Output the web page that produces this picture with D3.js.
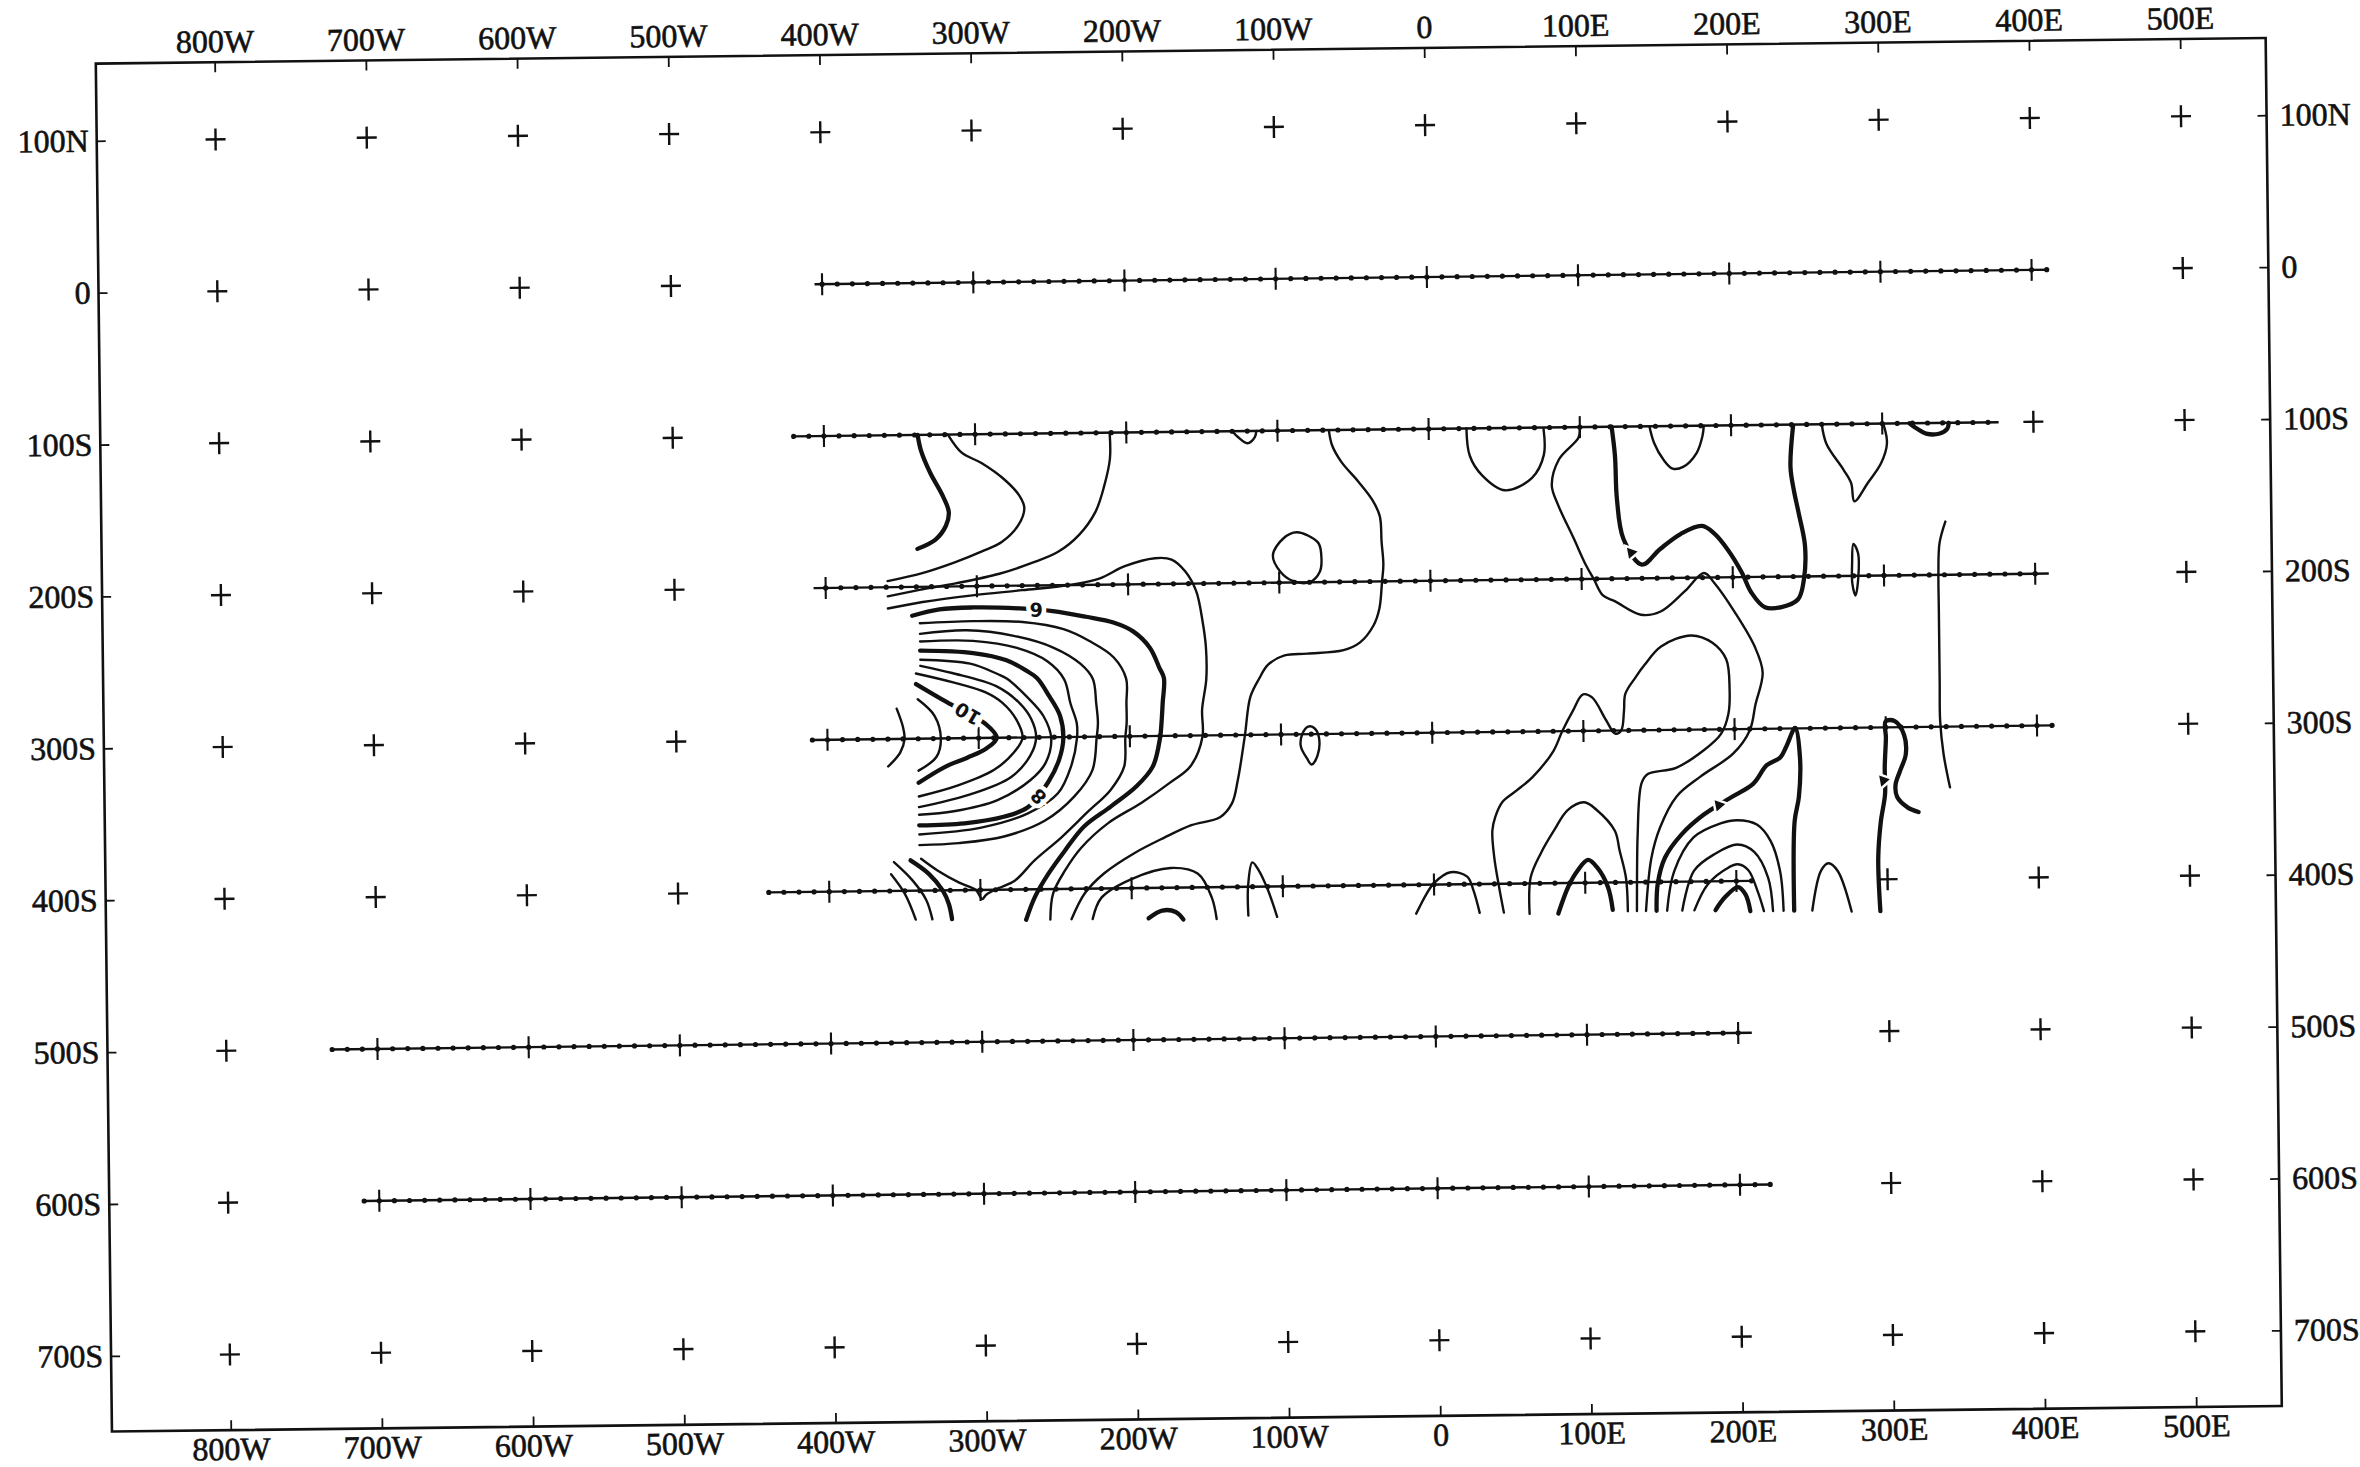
<!DOCTYPE html>
<html><head><meta charset="utf-8">
<script src="https://cdn.jsdelivr.net/npm/d3@7"></script>
<style>html,body{margin:0;padding:0;background:#fff;}svg{display:block;}</style>
</head><body>
<svg id="chart" width="2360" height="1467"></svg>
<script>
// ---------- axis data ----------
const lonTicks = [-800,-700,-600,-500,-400,-300,-200,-100,0,100,200,300,400,500];
const lonLabels = ["800W","700W","600W","500W","400W","300W","200W","100W","0","100E","200E","300E","400E","500E"];
const depthTicks = [100,0,-100,-200,-300,-400,-500,-600,-700];
const depthLabels = ["100N","0","100S","200S","300S","400S","500S","600S","700S"];
const lonDomain = [-878.6, 556.6];
const depthDomain = [150.8, -749.8];

// ---------- section lines (depth, start lon, end lon) ----------
const sectionDepths = [0,-100,-200,-300,-400,-500,-600];
const sectionStart  = [-405,-420,-408,-410,-440,-731,-711];
const sectionEnd    = [411,377,409,410,210,209,220];

// ---------- contour lines (lon, depth) ----------
const contourLines = [
 {id:"A",level:4,pts:[[-338,-100],[-336,-110],[-330,-125],[-322,-140],[-318,-151],[-320,-160],[-327,-169],[-339,-175]]},
 {id:"B",level:4.5,pts:[[-318,-100],[-309,-112],[-296,-119],[-281,-130],[-271,-141],[-268,-149],[-272,-160],[-283,-171],[-296,-177],[-314,-184],[-336,-191],[-359,-196]]},
 {id:"C",level:5,pts:[[-211,-100],[-211,-117],[-215,-135],[-221,-152],[-232,-167],[-246,-178],[-263,-185],[-285,-192],[-314,-198],[-338,-202],[-359,-206]]},
 {id:"D",level:5.5,pts:[[-359,-214],[-336,-210],[-303,-206],[-270,-203],[-239,-200],[-219,-196],[-202,-188],[-182,-183],[-171,-184],[-162,-192],[-155,-205],[-151,-225],[-149,-242],[-149,-263],[-152,-283],[-152,-301],[-160,-320],[-174,-331],[-193,-344],[-215,-357],[-233,-373],[-244,-388],[-252,-403],[-254,-420]]},
 {id:"E",level:6,pts:[[-343,-219],[-325,-215],[-303,-214],[-272,-215],[-250,-217],[-228,-221],[-210,-225],[-197,-231],[-186,-242],[-180,-255],[-177,-262],[-178,-278],[-179,-292],[-180,-301],[-185,-320],[-196,-333],[-213,-346],[-231,-359],[-244,-375],[-255,-390],[-264,-405],[-270,-420]]},
 {id:"F",level:6.5,pts:[[-338,-224],[-303,-223],[-270,-224],[-243,-229],[-226,-237],[-210,-248],[-202,-262],[-202,-278],[-202,-291],[-203,-301],[-204,-320],[-213,-335],[-229,-350],[-246,-366],[-264,-381],[-277,-394],[-288,-399],[-296,-403],[-299,-406],[-303,-400],[-314,-395],[-328,-387],[-339,-379]]},
 {id:"G",level:7,pts:[[-338,-231],[-307,-229],[-276,-233],[-250,-241],[-232,-252],[-224,-262],[-222,-278],[-221,-291],[-222,-301],[-225,-322],[-237,-339],[-257,-355],[-284,-365],[-314,-369],[-340,-370]]},
 {id:"H",level:7.5,pts:[[-338,-236],[-303,-236],[-274,-241],[-254,-250],[-243,-262],[-239,-278],[-235,-291],[-235,-301],[-239,-319],[-248,-337],[-268,-350],[-299,-359],[-340,-363]]},
 {id:"I",level:8,pts:[[-338,-242],[-303,-244],[-281,-249],[-268,-256],[-261,-261],[-253,-273],[-246,-286],[-244,-301],[-247,-315],[-254,-329],[-268,-346],[-284,-352],[-310,-356],[-340,-357]]},
 {id:"J",level:8.5,pts:[[-338,-248],[-305,-251],[-287,-258],[-281,-261],[-268,-273],[-257,-286],[-252,-301],[-256,-317],[-266,-328],[-288,-341],[-317,-348],[-340,-350]]},
 {id:"J2",level:9,pts:[[-338,-252],[-317,-257],[-288,-266],[-273,-277],[-265,-288],[-262,-300],[-266,-312],[-279,-326],[-306,-337],[-340,-345]]},
 {id:"K",level:9.5,pts:[[-341,-257],[-317,-263],[-295,-270],[-284,-277],[-275,-288],[-271,-300],[-277,-310],[-290,-321],[-314,-331],[-340,-338]]},
 {id:"V",level:10,pts:[[-341,-264],[-321,-276],[-307,-284],[-295,-291],[-288,-300],[-295,-307],[-308,-313],[-323,-319],[-340,-329]]},
 {id:"V2",level:10.5,pts:[[-340,-274],[-329,-285],[-325,-300],[-328,-312],[-340,-321]]},
 {id:"V3",level:11,pts:[[-354,-280],[-350,-292],[-349,-300],[-352,-309],[-360,-318]]},
 {id:"M",level:5,pts:[[-66,-100],[-64,-110],[-58,-121],[-47,-134],[-38,-146],[-33,-157],[-32,-174],[-31,-189],[-32,-200],[-34,-218],[-38,-229],[-47,-240],[-58,-245],[-82,-247],[-97,-248],[-108,-254],[-114,-263],[-120,-275],[-124,-301],[-129,-330],[-133,-345],[-141,-354],[-160,-359],[-178,-367],[-198,-377],[-218,-390],[-231,-403],[-240,-420]]},
 {id:"N",level:5.5,pts:[[-226,-420],[-220,-406],[-200,-394],[-174,-387],[-156,-391],[-147,-407],[-144,-421]]},
 {id:"O",level:6,pts:[[-189,-420],[-180,-415],[-171,-416],[-166,-421]]},
 {id:"P1",level:8,pts:[[-346,-380],[-334,-389],[-325,-400],[-321,-409],[-319,-419]]},
 {id:"P2",level:8.5,pts:[[-357,-381],[-345,-393],[-336,-406],[-332,-419]]},
 {id:"P3",level:9,pts:[[-359,-389],[-350,-402],[-343,-419]]},
 {id:"Q",level:4.5,pts:[[-130,-100],[-126,-104],[-120,-108],[-115,-104],[-114,-100]]},
 {id:"R",level:5.5,closed:true,pts:[[-104,-182],[-99,-193],[-91,-199],[-80,-200],[-73,-193],[-72,-182],[-74,-174],[-88,-167],[-97,-171]]},
 {id:"S",level:4.5,pts:[[25,-100],[27,-118],[35,-131],[50,-141],[68,-133],[76,-118],[76,-101]]},
 {id:"T",level:5,pts:[[100,-101],[99,-107],[86,-121],[81,-138],[85,-151],[95,-173],[103,-191],[108,-200],[114,-211],[122,-215],[139,-224],[152,-222],[168,-209],[181,-197],[188,-204],[201,-223],[214,-246],[219,-263],[214,-284],[210,-301],[199,-316],[177,-331],[161,-344],[150,-364],[144,-384],[140,-419]]},
 {id:"U",level:4,pts:[[121,-100],[123,-119],[124,-148],[128,-174],[140,-191],[152,-181],[166,-171],[180,-166],[188,-171],[197,-182],[206,-197],[212,-210],[221,-220],[232,-220],[243,-215],[247,-202],[248,-180],[244,-158],[241,-143],[239,-128],[241,-101]]},
 {id:"VV",level:4.5,pts:[[146,-100],[149,-111],[155,-122],[161,-128],[168,-127],[177,-118],[181,-107],[182,-100]]},
 {id:"WW",level:4.5,pts:[[260,-100],[263,-113],[274,-130],[279,-139],[281,-151],[290,-139],[299,-126],[303,-113],[301,-101]]},
 {id:"XX",level:4,pts:[[318,-100],[322,-103],[329,-107],[338,-107],[343,-104],[344,-100]]},
 {id:"YY",level:5,closed:true,pts:[[280,-179],[279,-192],[279,-205],[281,-213],[283,-201],[283,-185]]},
 {id:"LL",level:5,pts:[[341,-165],[337,-179],[336,-199],[336,-221],[336,-270],[336,-296],[338,-318],[342,-340]]},
 {id:"W",level:5.5,pts:[[46,-419],[43,-402],[40,-382],[39,-365],[41,-356],[46,-346],[55,-339],[66,-330],[80,-313],[86,-300],[93,-287],[100,-276],[106,-278],[115,-293],[121,-302],[125,-300],[127,-287],[128,-276],[135,-265],[141,-257],[152,-245],[172,-238],[186,-243],[195,-254],[197,-274],[196,-290],[191,-303],[179,-314],[161,-325],[142,-329],[138,-335],[135,-370],[134,-419]]},
 {id:"X",level:5.5,closed:true,pts:[[-86,-300],[-87,-308],[-83,-316],[-80,-320],[-76,-314],[-75,-302],[-78,-296],[-82,-295]]},
 {id:"Y",level:5.5,pts:[[-123,-419],[-123,-400],[-120,-384],[-116,-389],[-110,-402],[-104,-420]]},
 {id:"Z",level:5.5,pts:[[-12,-419],[-5,-406],[0,-399],[11,-392],[22,-395],[26,-404],[30,-419]]},
 {id:"AA",level:5.5,pts:[[63,-420],[64,-396],[71,-380],[80,-365],[89,-352],[100,-347],[108,-352],[120,-366],[123,-379],[127,-397],[128,-419]]},
 {id:"BB",level:6,pts:[[82,-420],[89,-402],[95,-392],[102,-385],[108,-390],[115,-403],[118,-418]]},
 {id:"DD",level:6,pts:[[147,-419],[148,-401],[153,-384],[164,-369],[179,-356],[197,-345],[212,-336],[221,-324],[230,-319],[234,-312],[240,-300],[243,-319],[242,-345],[239,-361],[238,-420]]},
 {id:"FF",level:6.5,pts:[[154,-419],[159,-393],[172,-371],[190,-362],[201,-360],[214,-363],[223,-374],[229,-394],[231,-420]]},
 {id:"GG",level:7,pts:[[164,-419],[172,-393],[186,-382],[201,-376],[212,-381],[221,-398],[224,-420]]},
 {id:"HH",level:7.5,pts:[[172,-419],[181,-402],[195,-391],[201,-389],[208,-393],[214,-407],[218,-420]]},
 {id:"II",level:8,pts:[[186,-419],[192,-411],[201,-404],[206,-409],[209,-420]]},
 {id:"JJ",level:5.5,pts:[[250,-420],[256,-394],[261,-389],[267,-394],[276,-421]]},
 {id:"KK",level:6,pts:[[295,-421],[294,-386],[296,-362],[299,-344],[299,-326],[300,-307],[300,-296],[306,-296],[312,-305],[313,-318],[309,-329],[306,-338],[307,-346],[314,-353],[321,-356]]}
];

// contour labels (text, lon, depth, angle)
const contourLabelText  = ["6","10","8"];
const contourLabelLon   = [-261,-307,-261];
const contourLabelDepth = [-216,-284,-339];
const contourLabelAngle = [180,211,225];
// small label marks (partly printed labels)
const labelMarkLon   = [133,189,298];
const labelMarkDepth = [-183,-350,-335];

// ---------- drawing ----------
const svg = d3.select("#chart");
svg.append("rect").attr("width",2360).attr("height",1467).attr("fill","#fff");
const g = svg.append("g").attr("transform","rotate(-0.676,1188.8,734.8)");

const x = d3.scaleLinear().domain(lonDomain).range([103.8, 2273.8]);
const y = d3.scaleLinear().domain(depthDomain).range([50.8, 1418.8]);
const ink = "#111";
const fontFam = "'Liberation Serif','DejaVu Serif',serif";

// frame
const [x0,x1] = x.range(), [y0,y1] = y.range();
g.append("rect").attr("x",x0).attr("y",y0).attr("width",x1-x0).attr("height",y1-y0)
 .attr("fill","none").attr("stroke",ink).attr("stroke-width",2.6);

// axes via d3.axis (inward ticks)
const fmtLon = d => lonLabels[lonTicks.indexOf(d)];
const fmtDep = d => depthLabels[depthTicks.indexOf(d)];
function styleAxis(sel){
  sel.select(".domain").remove();
  sel.selectAll(".tick line").attr("stroke",ink).attr("stroke-width",1.8);
  sel.selectAll(".tick text").attr("fill",ink).attr("font-family",fontFam).attr("font-size",32)
     .attr("stroke",ink).attr("stroke-width",0.6);
}
const axTop = g.append("g").attr("transform",`translate(0,${y0})`)
  .call(d3.axisTop(x).tickValues(lonTicks).tickFormat(fmtLon).tickSizeInner(-10).tickPadding(10));
styleAxis(axTop);
const axBot = g.append("g").attr("transform",`translate(0,${y1})`)
  .call(d3.axisBottom(x).tickValues(lonTicks).tickFormat(fmtLon).tickSizeInner(-10).tickPadding(7));
styleAxis(axBot);
const axLeft = g.append("g").attr("transform",`translate(${x0},0)`)
  .call(d3.axisLeft(y).tickValues(depthTicks).tickFormat(fmtDep).tickSizeInner(-9).tickPadding(8));
styleAxis(axLeft);
const axRight = g.append("g").attr("transform",`translate(${x1},0)`)
  .call(d3.axisRight(y).tickValues(depthTicks).tickFormat(fmtDep).tickSizeInner(-9).tickPadding(13));
styleAxis(axRight);

// standalone grid crosses
const crosses = [];
depthTicks.forEach(dep => {
  const si = sectionDepths.indexOf(dep);
  lonTicks.forEach(lon => {
    if (si >= 0 && lon >= sectionStart[si] && lon <= sectionEnd[si]) return;
    crosses.push([lon, dep]);
  });
});
const cg = g.append("g").attr("stroke",ink).attr("stroke-width",2.4);
crosses.forEach(([lon,dep]) => {
  const cx = x(lon), cy = y(dep);
  cg.append("line").attr("x1",cx-10).attr("x2",cx+10).attr("y1",cy).attr("y2",cy);
  cg.append("line").attr("x1",cx).attr("x2",cx).attr("y1",cy-11).attr("y2",cy+11);
});

// section lines with station dots and 100-unit ticks
const sg = g.append("g");
sectionDepths.forEach((dep,i) => {
  const a = sectionStart[i], b = sectionEnd[i], yy = y(dep);
  sg.append("line").attr("x1",x(a)).attr("x2",x(b)).attr("y1",yy).attr("y2",yy)
    .attr("stroke",ink).attr("stroke-width",2.4);
  d3.range(Math.ceil(a/10)*10, b+0.1, 10).forEach(l => {
    sg.append("circle").attr("cx",x(l)).attr("cy",yy).attr("r",2.6).attr("fill",ink);
  });
  d3.range(Math.ceil(a/100)*100, b+0.1, 100).forEach(l => {
    sg.append("line").attr("x1",x(l)).attr("x2",x(l)).attr("y1",yy-11).attr("y2",yy+11)
      .attr("stroke",ink).attr("stroke-width",2.1);
  });
});

// contours
const lineOpen = d3.line().x(d=>x(d[0])).y(d=>y(d[1])).curve(d3.curveCatmullRom.alpha(0.5));
const lineClosed = d3.line().x(d=>x(d[0])).y(d=>y(d[1])).curve(d3.curveCatmullRomClosed.alpha(0.5));
const kg = g.append("g").attr("fill","none").attr("stroke",ink)
  .attr("stroke-linecap","round").attr("stroke-linejoin","round");
contourLines.forEach(c => {
  kg.append("path").attr("d",(c.closed?lineClosed:lineOpen)(c.pts))
    .attr("stroke-width", (c.level % 2 === 0) ? 4.3 : 2.4);
});

// contour labels (printed along the lines, white gap around)
contourLabelText.forEach((t,i) => {
  g.append("text").attr("x",x(contourLabelLon[i])).attr("y",y(contourLabelDepth[i]))
    .attr("transform",`rotate(${contourLabelAngle[i]},${x(contourLabelLon[i])},${y(contourLabelDepth[i])})`)
    .attr("text-anchor","middle").attr("dominant-baseline","central")
    .attr("font-family","'DejaVu Sans',sans-serif").attr("font-weight","bold").attr("font-size",19)
    .attr("fill",ink).attr("stroke","#fff").attr("stroke-width",9).attr("paint-order","stroke")
    .text(t);
});
const tri = d3.symbol().type(d3.symbolTriangle).size(55);
labelMarkLon.forEach((l,i) => {
  g.append("path").attr("d",tri())
    .attr("transform",`translate(${x(l)},${y(labelMarkDepth[i])}) rotate(200)`)
    .attr("fill",ink).attr("stroke","#fff").attr("stroke-width",5).attr("paint-order","stroke");
});
</script>
</body></html>
